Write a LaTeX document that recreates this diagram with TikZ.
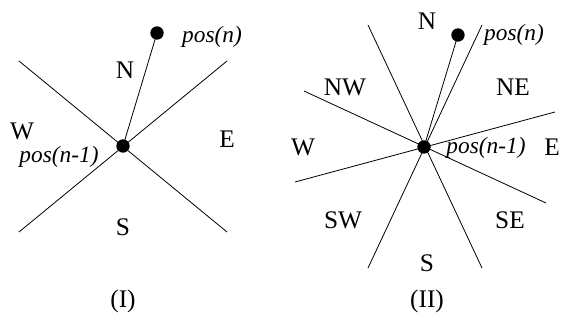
\documentclass[tikz,border=0pt]{standalone}
\usepackage{fontspec}
\setmainfont{Liberation Serif}
\tikzset{every picture/.style={line width=0.75pt}}
\tikzset{
  dirlbl/.style={inner sep=0.75pt,font=\fontsize{19}{22}\selectfont},
  poslbl/.style={inner sep=0.75pt,font=\fontsize{17.5}{20}\selectfont\itshape},
  posdot/.style={circle,fill=black,inner sep=0pt,minimum size=10pt},
  sector/.style={line width=0.6pt}
}
\begin{document}
\begin{tikzpicture}[x=0.75pt,y=0.75pt,yscale=-1,xscale=1]
\useasboundingbox (0,0) rectangle (561,324);

% (I) four sectors
\coordinate (la1) at (19,61);
\coordinate (la2) at (227,232);
\coordinate (lb1) at (227,61);
\coordinate (lb2) at (19,232);
\node [posdot] (lprev) at (123,146) {};
\node [posdot] (lnext) at (157,33) {};
\draw [sector] (la1) -- (la2);
\draw [sector] (lb1) -- (lb2);
\draw [sector] (lprev.center) -- (lnext.center);

% Text Node
\node [dirlbl] (ln) at (125,70) {N};
\node [dirlbl] (le) at (227,139) {E};
\node [dirlbl] (lw) at (22,131) {W};
\node [dirlbl] (ls) at (123,227) {S};
\node [poslbl] (lposn) at (212,37) {pos(n)};
\node [poslbl] (lposp) at (59,157) {pos(n-1)};
\node [dirlbl] (lcap) at (123,301) {(I)};

% (II) eight sectors
\coordinate (ra1) at (368,25);
\coordinate (ra2) at (482,268);
\coordinate (rb1) at (482,25);
\coordinate (rb2) at (368,268);
\coordinate (rc1) at (304,91);
\coordinate (rc2) at (546,203);
\coordinate (rd1) at (555,112);
\coordinate (rd2) at (295,182);
\node [posdot] (rprev) at (424,147) {};
\node [posdot] (rnext) at (458,35) {};
\draw [sector] (ra1) -- (ra2);
\draw [sector] (rb1) -- (rb2);
\draw [sector] (rc1) -- (rc2);
\draw [sector] (rd1) -- (rd2);
\draw [sector] (rprev.center) -- (rnext.center);

% Text Node
\node [dirlbl] (rn) at (427,21) {N};
\node [dirlbl] (rne) at (513,87) {NE};
\node [dirlbl] (rnw) at (345,87) {NW};
\node [dirlbl] (re) at (552,147) {E};
\node [dirlbl] (rw) at (303,147) {W};
\node [dirlbl] (rse) at (510,220) {SE};
\node [dirlbl] (rsw) at (343,220) {SW};
\node [dirlbl] (rs) at (427,263) {S};
\node [poslbl] (rposn) at (514,35) {pos(n)};
\node [poslbl] (rposp) at (486,148) {pos(n-1)};
\node [dirlbl] (rcap) at (427,301) {(II)};

\end{tikzpicture}
\end{document}
